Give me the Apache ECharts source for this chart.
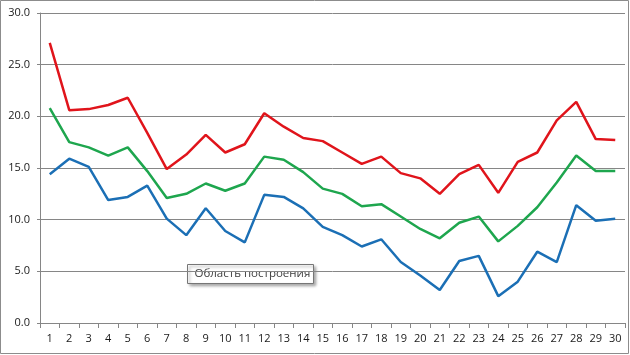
<!DOCTYPE html>
<html><head><meta charset="utf-8">
<script src="https://cdn.jsdelivr.net/npm/echarts@6/dist/echarts.min.js"></script>
<style>html,body{margin:0;padding:0;background:#fff}#c{width:630px;height:355px}</style>
</head><body><div id="c"></div>
<script>
const categories = ['1','2','3','4','5','6','7','8','9','10','11','12','13','14','15','16','17','18','19','20','21','22','23','24','25','26','27','28','29','30'];
const redValues = [27.1,20.6,20.7,21.1,21.8,18.4,14.9,16.3,18.2,16.5,17.3,20.3,19.0,17.9,17.6,16.5,15.4,16.1,14.5,14.0,12.5,14.4,15.3,12.6,15.6,16.5,19.6,21.4,17.8,17.7];
const greenValues = [20.8,17.5,17.0,16.2,17.0,14.7,12.1,12.5,13.5,12.8,13.5,16.1,15.8,14.6,13.0,12.5,11.3,11.5,10.3,9.1,8.2,9.7,10.3,7.9,9.4,11.2,13.6,16.2,14.7,14.7];
const blueValues = [14.4,15.9,15.1,11.9,12.2,13.3,10.1,8.5,11.1,8.9,7.8,12.4,12.2,11.1,9.3,8.5,7.4,8.1,5.9,4.6,3.2,6.0,6.5,2.6,4.0,6.9,5.9,11.4,9.9,10.1];
const yTicks = {min:0, max:30, interval:5};
const tooltipLabel = 'Область построения';

const chart = echarts.init(document.getElementById('c'), null, {renderer:'canvas'});
const font = 'Open Sans, Noto Sans, sans-serif';
function lineSeries(data, color){
  return {type:'line', data:data, symbol:'none', lineStyle:{color:color, width:2.5}, itemStyle:{color:color}, animation:false};
}
chart.setOption({
  animation:false,
  grid:{left:40, right:5, top:13, bottom:32, containLabel:false},
  xAxis:{type:'category', data:categories, boundaryGap:true,
    axisLine:{lineStyle:{color:'#868686', width:1}},
    axisTick:{show:true, alignWithLabel:false, length:5, lineStyle:{color:'#868686'}},
    axisLabel:{color:'#1a1a1a', fontFamily:font, fontSize:11, margin:10, interval:0}},
  yAxis:{type:'value', min:yTicks.min, max:yTicks.max, interval:yTicks.interval,
    axisLine:{show:true, lineStyle:{color:'#868686'}},
    axisTick:{show:true, length:3, lineStyle:{color:'#868686'}},
    splitLine:{lineStyle:{color:'#868686', width:1}},
    axisLabel:{color:'#1a1a1a', fontFamily:font, fontSize:11, margin:10, formatter:v=>v.toFixed(1)}},
  series:[lineSeries(redValues,'#e0141b'), lineSeries(greenValues,'#1ea64e'), lineSeries(blueValues,'#1b6fb5')],
  graphic:[
    {type:'rect', shape:{x:0.5,y:0.5,width:628,height:353}, style:{fill:'none', stroke:'#8c8c8c', lineWidth:1}, silent:true},
    {type:'group', left:187, top:264, children:[
      {type:'rect', shape:{x:0,y:0,width:126,height:19}, style:{fill:'#fff', stroke:'#767676', lineWidth:1, shadowBlur:3, shadowOffsetX:2, shadowOffsetY:2, shadowColor:'rgba(0,0,0,0.35)'}},
      {type:'text', x:7, y:3.5, style:{text:tooltipLabel, fill:'#404040', font:'11.5px '+font}}
    ]}
  ]
});
</script></body></html>
